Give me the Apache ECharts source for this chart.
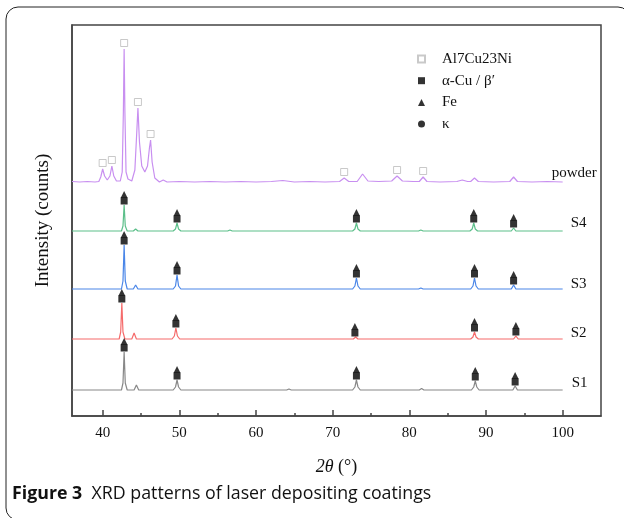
<!DOCTYPE html>
<html>
<head>
<meta charset="utf-8">
<script src="https://cdn.jsdelivr.net/npm/echarts@6/dist/echarts.min.js"></script>
<style>
    html, body { margin: 0; padding: 0; background: #fff; }
    #xrdChart { width: 624px; height: 518px; }
</style>
</head>
<body>
<div id="xrdChart"></div>
<script>
    // 2θ tick labels (major) and minor ticks
    const majorTicks = [40, 50, 60, 70, 80, 90, 100]
    const minorTicks = [45, 55, 65, 75, 85, 95]

    // vertical offsets of each pattern (stacked display)
    const offsets = { powder: 234, S4: 185, S3: 127, S2: 77, S1: 26 }

    // patterns: [2θ, intensity above baseline]
    const powder = [
        [36, 0.5], [37, 0], [38, 0.5], [39, 0], [39.5, 0.5], [39.75, 5], [40.0, 13], [40.25, 6], [40.6, 2],
        [40.95, 6], [41.2, 16], [41.45, 6], [41.8, 1], [42.3, 1], [42.55, 10], [42.7, 70], [42.8, 133],
        [42.9, 70], [43.05, 10], [43.3, 3], [43.8, 1], [44.2, 12], [44.45, 50], [44.6, 74], [44.8, 40],
        [45.1, 16], [45.5, 10], [45.85, 16], [46.1, 34], [46.25, 42], [46.45, 20], [46.8, 4], [47.4, 0],
        [47.9, 2], [48.4, 0], [50, 0.5], [52, 0], [54, 0.5], [56, 0], [58, 0.5], [60, 0], [62, 0.5],
        [63.5, 1.5], [65, 0], [67, 0.5], [69, 0], [70.9, 0.5], [71.5, 4], [72.1, 0.5], [73.2, 0.5],
        [73.9, 8], [74.6, 1], [76, 0.5], [77.7, 1], [78.4, 6], [79.1, 1], [80.5, 0.5], [81.3, 0.5],
        [81.8, 5], [82.3, 0.5], [84, 0], [86.2, 0.5], [86.9, 2], [87.6, 0.5], [88, 0.5], [88.5, 4],
        [89.0, 0.5], [91, 0], [93.1, 0.5], [93.6, 5], [94.1, 0.5], [96, 0], [98, 0.5], [100, 0]
    ]
    const s4 = [
        [36, 0], [42.45, 0], [42.65, 5], [42.8, 26], [42.95, 5], [43.2, 0], [44.0, 0], [44.3, 2], [44.6, 0],
        [49.2, 0], [49.5, 2], [49.7, 8], [49.9, 2], [50.2, 0], [56.3, 0], [56.6, 1], [56.9, 0],
        [72.6, 0], [72.9, 2], [73.1, 8], [73.3, 2], [73.6, 0], [81.2, 0], [81.5, 1], [81.8, 0],
        [87.9, 0], [88.2, 2], [88.4, 8], [88.6, 2], [88.9, 0], [93.3, 0], [93.6, 3], [93.9, 0], [100, 0]
    ]
    const s3 = [
        [36, 0], [42.45, 0], [42.65, 8], [42.8, 44], [42.95, 8], [43.2, 0], [44.0, 0], [44.3, 4], [44.6, 0],
        [49.2, 0], [49.5, 3], [49.7, 14], [49.9, 3], [50.2, 0], [72.6, 0], [72.9, 3], [73.1, 11], [73.3, 3],
        [73.6, 0], [81.2, 0], [81.5, 1], [81.8, 0], [88.0, 0], [88.3, 3], [88.5, 11], [88.7, 3], [89.0, 0],
        [93.3, 0], [93.6, 4], [93.9, 0], [100, 0]
    ]
    const s2 = [
        [36, 0], [42.15, 0], [42.35, 7], [42.5, 36], [42.65, 7], [42.9, 0], [43.8, 0], [44.1, 6], [44.4, 0],
        [49.05, 0], [49.35, 3], [49.55, 11], [49.75, 3], [50.05, 0], [72.7, 0], [73.0, 2], [73.3, 0],
        [88.0, 0], [88.3, 2], [88.5, 7], [88.7, 2], [89.0, 0], [93.6, 0], [93.9, 3], [94.2, 0], [100, 0]
    ]
    const s1 = [
        [36, 0], [42.45, 0], [42.65, 7], [42.8, 38], [42.95, 7], [43.2, 0], [44.1, 0], [44.4, 5], [44.7, 0],
        [49.2, 0], [49.5, 3], [49.7, 10], [49.9, 3], [50.2, 0], [64.0, 0], [64.3, 1], [64.6, 0],
        [72.6, 0], [72.9, 3], [73.1, 10], [73.3, 3], [73.6, 0], [81.3, 0], [81.6, 1.5], [81.9, 0],
        [88.1, 0], [88.4, 3], [88.6, 9], [88.8, 3], [89.1, 0], [93.5, 0], [93.8, 4], [94.1, 0], [100, 0]
    ]

    // phase markers: [2θ, peak height]
    const powderMarks = [[40, 13], [41.2, 16], [42.8, 133], [44.6, 74], [46.25, 42], [71.5, 4], [78.4, 6], [81.8, 5]]
    const s4Marks = [[42.8, 26], [49.7, 8], [73.1, 8], [88.4, 8], [93.6, 3]]
    const s3Marks = [[42.8, 44], [49.7, 14], [73.1, 11], [88.5, 11], [93.6, 4]]
    const s2Marks = [[42.5, 36], [49.55, 11], [72.9, 2], [88.5, 7], [93.9, 3]]
    const s1Marks = [[42.8, 38], [49.7, 10], [73.1, 10], [88.6, 9], [93.8, 4]]

    const serif = 'Liberation Serif'

    function shift(list, off) {
        return list.map(p => [p[0], p[1] + off])
    }

    function curve(name, list, color, labelOffset) {
        return {
            name: name,
            type: 'line',
            data: shift(list, offsets[name]),
            symbol: 'none',
            silent: true,
            lineStyle: { color: color, width: 1.2 },
            endLabel: {
                show: true,
                formatter: name,
                distance: 0,
                offset: labelOffset,
                color: '#111',
                fontFamily: serif,
                fontSize: 15
            }
        }
    }

    const sampleMarks = []
        .concat(shift(s4Marks, offsets.S4))
        .concat(shift(s3Marks, offsets.S3))
        .concat(shift(s2Marks, offsets.S2))
        .concat(shift(s1Marks, offsets.S1))

    const myChart = echarts.init(document.getElementById('xrdChart'))
    myChart.setOption({
        animation: false,
        backgroundColor: '#fff',
        grid: {
            left: 72,
            right: 23,
            top: 25,
            bottom: 102,
            show: true,
            borderColor: '#444',
            borderWidth: 1.5
        },
        legend: {
            data: ['Al7Cu23Ni', 'α-Cu / β′', 'Fe', 'κ'],
            orient: 'vertical',
            left: 412,
            top: 46,
            itemWidth: 7,
            itemHeight: 7,
            itemGap: 5.7,
            selectedMode: false,
            textStyle: {
                color: '#111',
                fontFamily: serif,
                fontSize: 15,
                lineHeight: 16,
                padding: [0, 0, 0, 12]
            }
        },
        xAxis: [{
            type: 'value',
            min: 36,
            max: 105,
            name: '{i|2θ} (°)',
            nameLocation: 'middle',
            nameGap: 42,
            nameTextStyle: {
                color: '#111',
                fontFamily: serif,
                fontSize: 18,
                rich: { i: { fontStyle: 'italic', fontFamily: serif, fontSize: 18, color: '#111' } }
            },
            axisLine: { show: true, lineStyle: { color: '#444', width: 1.5 } },
            axisTick: { show: true, inside: true, length: 6, customValues: majorTicks, lineStyle: { color: '#444', width: 1.5 } },
            axisLabel: { customValues: majorTicks, color: '#111', fontFamily: serif, fontSize: 15, margin: 10 },
            splitLine: { show: false }
        }, {
            // minor ticks only
            type: 'value',
            min: 36,
            max: 105,
            position: 'bottom',
            axisLine: { show: false },
            axisTick: { show: true, inside: true, length: 3, customValues: minorTicks, lineStyle: { color: '#444', width: 1.5 } },
            axisLabel: { show: false },
            splitLine: { show: false }
        }],
        yAxis: {
            type: 'value',
            min: 0,
            max: 391,
            name: 'Intensity (counts)',
            nameLocation: 'middle',
            nameGap: 19,
            nameRotate: 90,
            nameTextStyle: { color: '#111', fontFamily: serif, fontSize: 19 },
            axisLine: { show: true, lineStyle: { color: '#444', width: 1.5 } },
            axisTick: { show: false },
            axisLabel: { show: false },
            splitLine: { show: false }
        },
        graphic: [{
            type: 'rect',
            shape: { x: 6, y: 7, width: 624, height: 513, r: 12 },
            style: { fill: 'none', stroke: '#222', lineWidth: 1 },
            silent: true
        }, {
            type: 'text',
            left: 12,
            top: 485,
            style: {
                text: '{b|Figure 3}  XRD patterns of laser depositing coatings',
                fontFamily: 'Open Sans',
                fontSize: 17.8,
                fill: '#111',
                rich: { b: { fontWeight: 'bold', fontFamily: 'Open Sans', fontSize: 17.8, fill: '#111' } }
            }
        }],
        series: [
            curve('powder', powder, '#c88ff0', [-11, -9]),
            curve('S4', s4, '#5cbf8a', [8, -8]),
            curve('S3', s3, '#4a86e8', [8, -5]),
            curve('S2', s2, '#f56b6b', [8, -6]),
            curve('S1', s1, '#888888', [9, -7]),
            {
                name: 'Al7Cu23Ni',
                type: 'scatter',
                data: shift(powderMarks, offsets.powder),
                symbol: 'rect',
                symbolSize: 7,
                symbolOffset: [0, -6],
                itemStyle: { color: '#fff', borderColor: '#bbb', borderWidth: 1 },
                z: 5
            },
            {
                name: 'α-Cu / β′',
                type: 'scatter',
                data: sampleMarks,
                symbol: 'rect',
                symbolSize: 7,
                symbolOffset: [0, -4],
                itemStyle: { color: '#000' },
                z: 5
            },
            {
                name: 'Fe',
                type: 'scatter',
                data: sampleMarks,
                symbol: 'triangle',
                symbolSize: [7, 7],
                symbolOffset: [0, -10.5],
                itemStyle: { color: '#000' },
                z: 5
            },
            {
                name: 'κ',
                type: 'scatter',
                data: [],
                symbol: 'circle',
                itemStyle: { color: '#000' }
            }
        ]
    })
</script>
</body>
</html>
